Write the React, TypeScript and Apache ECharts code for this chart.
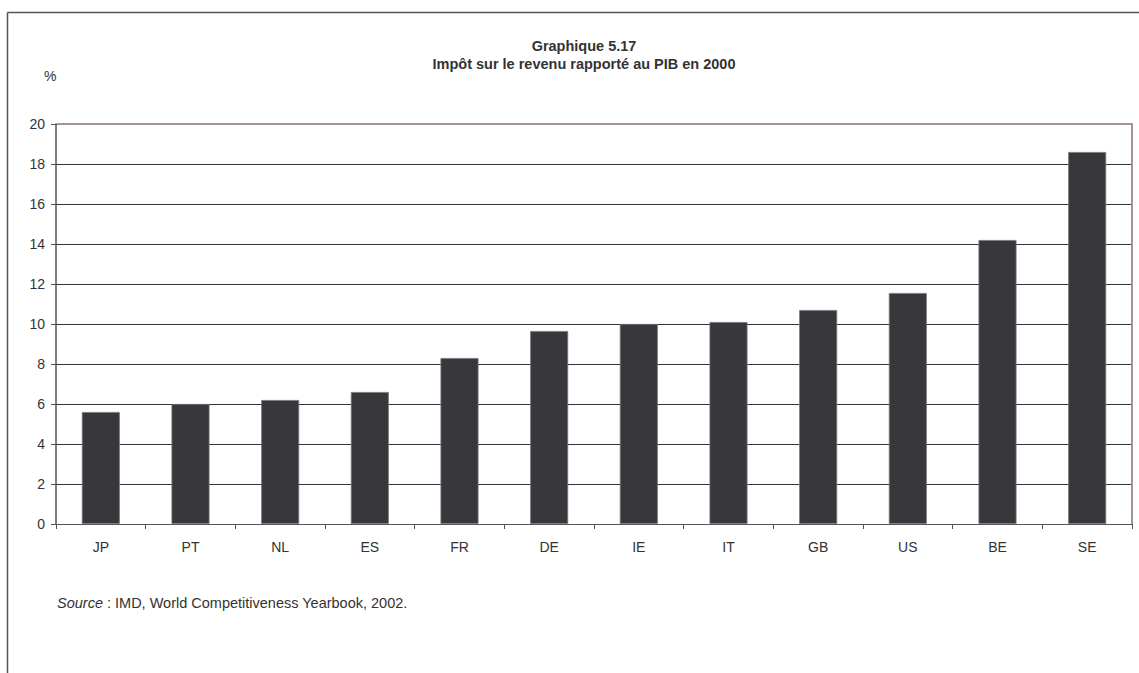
import React, { useEffect, useRef } from "react";
import * as echarts from "echarts";

const countries = ["JP", "PT", "NL", "ES", "FR", "DE", "IE", "IT", "GB", "US", "BE", "SE"];
const incomeTaxShare = [5.6, 6.0, 6.2, 6.6, 8.3, 9.65, 10.0, 10.1, 10.7, 11.55, 14.2, 18.6];
const yTicks = [0, 2, 4, 6, 8, 10, 12, 14, 16, 18, 20];

const FONT = "'Liberation Sans', Arial, Helvetica, sans-serif";
const TEXT = "#333333";
const PLOT = { left: 56, right: 1132, top: 124, bottom: 524 };

export default function App() {
  const ref = useRef<HTMLDivElement>(null);

  useEffect(() => {
    document.body.style.margin = "0";
    if (!ref.current) return;
    const chart = echarts.init(ref.current, null, { renderer: "svg" });
    chart.setOption({
      animation: false,
      backgroundColor: "#ffffff",
      textStyle: { fontFamily: FONT },
      title: {
        text: "Graphique 5.17\nImpôt sur le revenu rapporté au PIB en 2000",
        left: 579,
        top: 32,
        textAlign: "center",
        textStyle: {
          fontFamily: FONT,
          fontSize: 14.5,
          fontWeight: "bold",
          color: TEXT,
          lineHeight: 18,
        },
      },
      grid: {
        left: PLOT.left,
        right: 1139 - PLOT.right,
        top: PLOT.top,
        bottom: 673 - PLOT.bottom,
      },
      xAxis: {
        type: "category",
        data: countries,
        axisLine: { lineStyle: { color: "#555555", width: 1 } },
        axisTick: { show: true, alignWithLabel: false, length: 5, lineStyle: { color: "#555555" } },
        axisLabel: { color: TEXT, fontSize: 14, margin: 16, fontFamily: FONT },
        splitLine: { show: false },
      },
      yAxis: {
        type: "value",
        min: yTicks[0],
        max: yTicks[yTicks.length - 1],
        interval: yTicks[1] - yTicks[0],
        axisLine: { show: true, lineStyle: { color: "#555555", width: 1.5 } },
        axisTick: { show: true, length: 5, lineStyle: { color: "#555555" } },
        axisLabel: { color: TEXT, fontSize: 14, margin: 11, fontFamily: FONT },
        splitLine: { show: true, lineStyle: { color: "#333333", width: 1 } },
      },
      series: [
        {
          type: "bar",
          data: incomeTaxShare,
          barWidth: 38,
          itemStyle: { color: "#38373c", borderColor: "#77757a", borderWidth: 0.8 },
        },
      ],
      graphic: [
        {
          type: "line",
          z: 100,
          shape: { x1: 7.5, y1: 12.5, x2: 1139, y2: 12.5 },
          style: { stroke: "#555555", lineWidth: 1.5 },
        },
        {
          type: "line",
          z: 100,
          shape: { x1: 7.5, y1: 12.5, x2: 7.5, y2: 673 },
          style: { stroke: "#555555", lineWidth: 1.5 },
        },
        {
          type: "polyline",
          z: 100,
          shape: {
            points: [
              [PLOT.left + 1, PLOT.top],
              [PLOT.right, PLOT.top],
              [PLOT.right, PLOT.bottom],
            ],
          },
          style: { stroke: "#a2958f", lineWidth: 2, fill: null },
        },
        {
          type: "text",
          left: 44,
          top: 69,
          style: { text: "%", fontFamily: FONT, fontSize: 14, fill: TEXT },
        },
        {
          type: "text",
          left: 57,
          top: 595,
          style: {
            text: "{i|Source} : IMD, World Competitiveness Yearbook, 2002.",
            fontFamily: FONT,
            fontSize: 14.5,
            fill: TEXT,
            rich: {
              i: { fontStyle: "italic", fontFamily: FONT, fontSize: 14.5, fill: TEXT },
            },
          },
        },
      ],
    });
    return () => chart.dispose();
  }, []);

  return <div ref={ref} style={{ width: 1139, height: 673 }} />;
}
